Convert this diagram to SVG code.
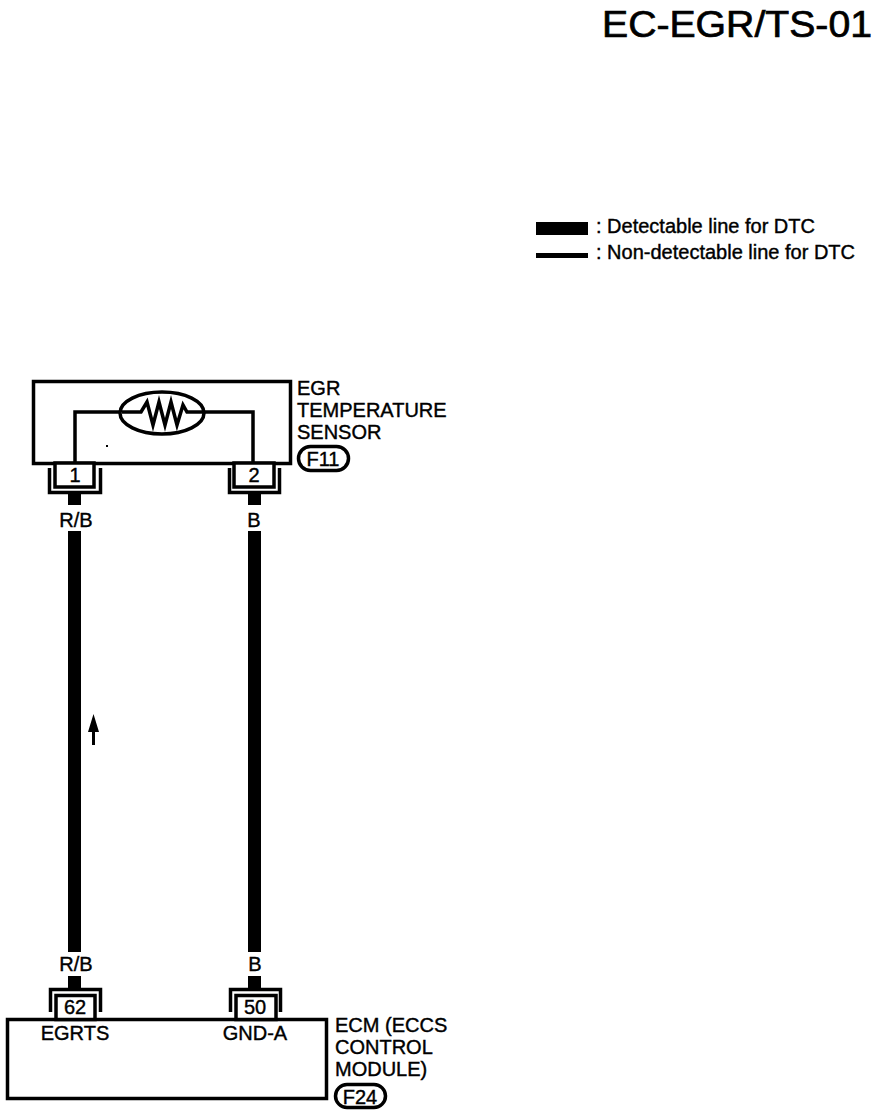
<svg xmlns="http://www.w3.org/2000/svg" width="880" height="1116" viewBox="0 0 880 1116">
<style>
text{font-family:"Liberation Sans",Arial,sans-serif;font-size:20px;fill:#000;stroke:#000;stroke-width:.4}
.c{text-anchor:middle}
.l{fill:none;stroke:#000;stroke-width:3.500}
.b{fill:#fff;stroke:#000;stroke-width:3.500}
.w{fill:#000;stroke:none}
</style>
<rect width="880" height="1116" fill="#fff"/>
<text x="602" y="37" style="font-size:37px;stroke-width:.7" textLength="270" lengthAdjust="spacingAndGlyphs">EC-EGR/TS-01</text>
<g id="legend">
<rect class="w" x="536" y="222" width="52" height="13"/>
<rect class="w" x="536" y="253" width="52" height="5"/>
<text x="596" y="233">: Detectable line for DTC</text>
<text x="596" y="259">: Non-detectable line for DTC</text>
</g>
<g id="connectors">
<rect class="w" x="68" y="494" width="13" height="11"/>
<rect class="w" x="68" y="531" width="13" height="421"/>
<rect class="w" x="68" y="976" width="13" height="12"/>
<rect class="w" x="248" y="494" width="13" height="11"/>
<rect class="w" x="248" y="531" width="13" height="421"/>
<rect class="w" x="248" y="976" width="13" height="12"/>
<text class="c" x="76" y="527">R/B</text>
<text class="c" x="254" y="527">B</text>
<text class="c" x="76" y="971">R/B</text>
<text class="c" x="255" y="971">B</text>
<path class="w" d="M93.500 714L99 732H95V745H92V732H88Z"/>
</g>
<g id="sensor">
<rect class="b" x="33.500" y="381.500" width="257" height="82"/>
<path class="l" d="M75 463V412H120M204 412H253V463"/>
<ellipse class="l" cx="162" cy="413" rx="42" ry="21"/>
<path class="l" d="M122 412H141L147 402L153 425L159 402L165 425L171 402L177 425L183 405L187 412H204"/>
<rect class="w" x="106" y="445" width="2" height="2"/>
<text x="297" y="395">EGR</text>
<text x="297" y="417">TEMPERATURE</text>
<text x="297" y="439">SENSOR</text>
<rect class="l" x="298.500" y="446.500" width="50" height="24" rx="12"/>
<text class="c" x="323" y="466">F11</text>
</g>
<g id="pin1">
<path class="l" d="M49.500 468V492.500H100.500V468"/>
<rect class="b" x="55" y="463" width="39" height="24"/>
<text class="c" x="75" y="482">1</text>
</g>
<g id="pin2">
<path class="l" d="M229.500 468V492.500H279.500V468"/>
<rect class="b" x="234" y="463" width="40" height="24"/>
<text class="c" x="254" y="482">2</text>
</g>
<g id="ecm">
<rect class="b" x="7.500" y="1019.500" width="319" height="79"/>
<text class="c" x="75" y="1040">EGRTS</text>
<text class="c" x="255" y="1040">GND-A</text>
<text x="335" y="1032">ECM (ECCS</text>
<text x="335" y="1054">CONTROL</text>
<text x="335" y="1076">MODULE)</text>
<rect class="l" x="335.500" y="1084.500" width="50" height="23" rx="11.500"/>
<text class="c" x="360" y="1104">F24</text>
</g>
<g id="pin62">
<path class="l" d="M50.500 1012V989.500H100.500V1012"/>
<rect class="b" x="56" y="995.500" width="39" height="24"/>
<text class="c" x="75" y="1014">62</text>
</g>
<g id="pin50">
<path class="l" d="M230.500 1012V989.500H280.500V1012"/>
<rect class="b" x="236" y="995.500" width="40" height="24"/>
<text class="c" x="255" y="1014">50</text>
</g>
</svg>
